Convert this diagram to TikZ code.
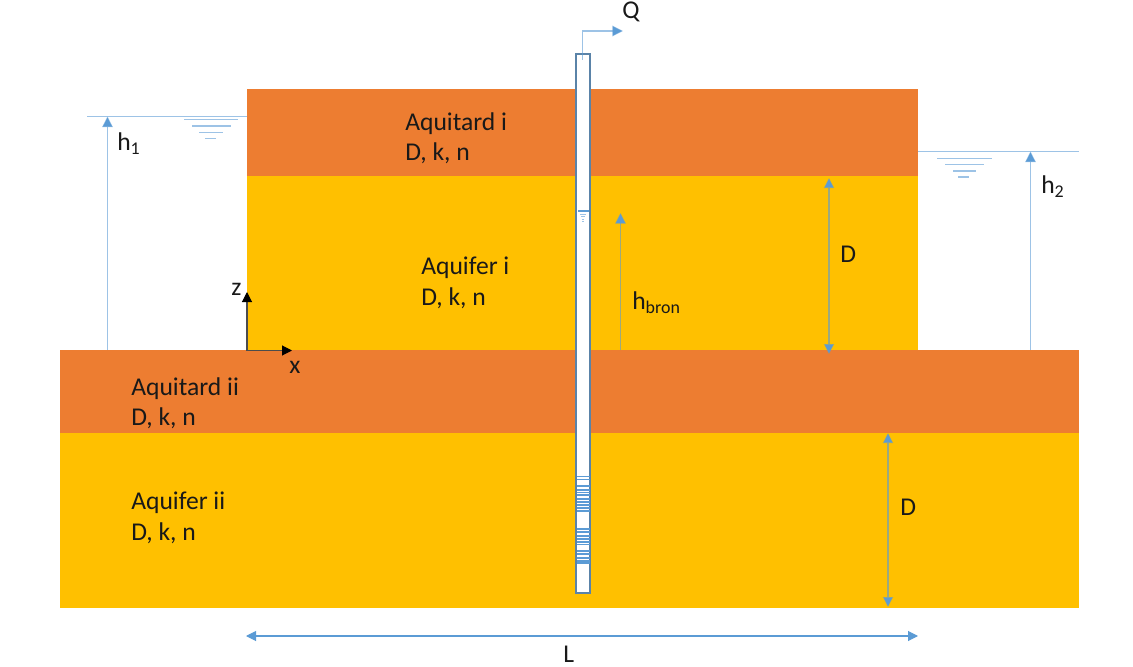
\documentclass[tikz,border=0pt]{standalone}
\usepackage{fontspec}
\setmainfont{Carlito}
\usetikzlibrary{arrows.meta}
\definecolor{aqt}{HTML}{ED7D31}
\definecolor{aqf}{HTML}{FFC000}
\definecolor{tipblue}{HTML}{5B9BD5}
\definecolor{lineblue}{HTML}{9DC3E6}
\definecolor{wellblue}{HTML}{5A83A8}
\tikzset{
  layer/.style={draw=none,inner sep=0pt,outer sep=0pt,minimum width=#1*0.75pt,anchor=north west},
  lbl/.style={font=\fontsize{19.2pt}{22.8pt}\selectfont,text=black!90,inner sep=0pt,anchor=west,align=left},
  conn/.style={draw=tipblue,draw opacity=0.6,line width=0.8pt},
  oneway/.style={conn,-{Triangle[length=8pt,width=8pt,color=tipblue]}},
  twoway/.style={conn,{Triangle[length=7.5pt,width=7.5pt,color=tipblue]}-{Triangle[length=7.5pt,width=7.5pt,color=tipblue]}},
  solidway/.style={twoway,draw opacity=1},
  axis/.style={draw=black!70,line width=0.8pt,-{Triangle[length=7.5pt,width=7.5pt,color=black]}},
  water/.style={draw=lineblue,line width=0.8pt},
  screen/.style={draw=tipblue,line width=0.8pt},
}
\begin{document}
\begin{tikzpicture}[x=0.75pt,y=-0.75pt]
\useasboundingbox (0,0) rectangle (1133,667);
% layers
\node[layer=671,fill=aqt,minimum height=87*0.75pt] (aqt1) at (247,89) {};
\node[layer=671,fill=aqf,minimum height=174*0.75pt] (aqf1) at (247,176) {};
\node[layer=1019,fill=aqt,minimum height=83*0.75pt] (aqt2) at (60,350) {};
\node[layer=1019,fill=aqf,minimum height=175*0.75pt] (aqf2) at (60,433) {};
% coordinates
\coordinate (w1a) at (87,116.5); \coordinate (w1b) at (247,116.5);
\coordinate (w2a) at (918,151.5); \coordinate (w2b) at (1079,151.5);
\coordinate (h1b) at (107.5,350); \coordinate (h1t) at (107.5,116.5);
\coordinate (h2b) at (1030.5,350); \coordinate (h2t) at (1030.5,151.5);
\coordinate (hbb) at (620.5,350); \coordinate (hbt) at (620.5,213);
\coordinate (d1t) at (829,178); \coordinate (d1b) at (829,354);
\coordinate (d2t) at (888,433); \coordinate (d2b) at (888,607);
\coordinate (la) at (246,636); \coordinate (lb) at (918,636);
\coordinate (org) at (247,350.5); \coordinate (zt) at (247,292); \coordinate (xt) at (292,350.5);
\coordinate (qa) at (582.5,60); \coordinate (qb) at (623,31);
% well
\node[draw=wellblue,line width=0.8pt,fill=white,inner sep=0pt,outer sep=0pt,minimum width=14*0.75pt,minimum height=539*0.75pt,anchor=north west] (well) at (576,54) {};
\foreach \yy in {476.5,479.5,486,490,492.5,495,499,502,505,508,511,529,532,536,539,542,544.5,551,554,558,561,563}
  \draw[screen] (577,\yy) -- (590,\yy);
% water in the well
\draw[water,draw=tipblue] (578,211) -- (589,211);
\draw[water,line width=0.5pt] (580,214) -- (586,214);
\draw[water,line width=0.5pt] (581,216.5) -- (585,216.5);
\draw[water,line width=0.5pt] (582,219) -- (584,219);
\draw[water,line width=0.5pt] (582,221) -- (584,221);
% water levels
\draw[conn] (w1a) -- (w1b);
\draw[conn] (w2a) -- (w2b);
\draw[water] (184,119.5) -- (238,119.5);
\draw[water] (192,126) -- (231,126);
\draw[water] (199,132.5) -- (223,132.5);
\draw[water] (205,138.5) -- (216,138.5);
\draw[water] (937,158.5) -- (992,158.5);
\draw[water] (945,164.5) -- (984,164.5);
\draw[water] (953,171) -- (976,171);
\draw[water] (958,177) -- (969,177);
% connectors
\draw[oneway] (h1b) -- (h1t);
\draw[oneway] (h2b) -- (h2t);
\draw[oneway] (hbb) -- (hbt);
\draw[oneway] (qa) |- (qb);
\draw[twoway] (d1t) -- (d1b);
\draw[twoway] (d2t) -- (d2b);
\draw[solidway] (la) -- (lb);
\draw[axis] (org) -- (zt);
\draw[axis] (org) -- (xt);
% labels
\node[lbl] (t1) at (405,138.5) {Aquitard i\\D, k, n};
\node[lbl] (t2) at (421,283) {Aquifer i\\D, k, n};
\node[lbl] (t3) at (131,403) {Aquitard ii\\D, k, n};
\node[lbl] (t4) at (131,518) {Aquifer ii\\D, k, n};
\node[lbl] (th1) at (117,144) {h\textsubscript{1}};
\node[lbl] (th2) at (1041,187) {h\textsubscript{2}};
\node[lbl] (thb) at (632,303) {h\textsubscript{bron}};
\node[lbl] (td1) at (840,254) {D};
\node[lbl] (td2) at (900,507) {D};
\node[lbl] (tl) at (563,654.5) {L};
\node[lbl] (tq) at (622,12) {Q};
\node[lbl] (tz) at (231,289) {z};
\node[lbl] (tx) at (289,367) {x};
\end{tikzpicture}
\end{document}
